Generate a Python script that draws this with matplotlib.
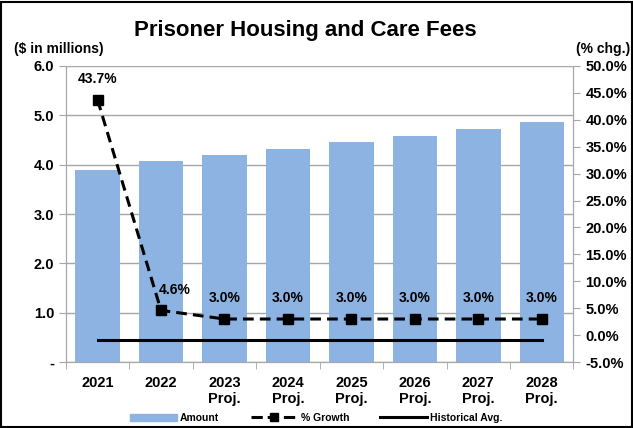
import matplotlib.pyplot as plt
from matplotlib.ticker import FuncFormatter
from matplotlib.patches import Rectangle
from matplotlib.lines import Line2D
import numpy as np

plt.rcParams['font.family'] = ['Liberation Sans', 'DejaVu Sans']
plt.rcParams['font.weight'] = 'bold'

years = ["2021", "2022", "2023\nProj.", "2024\nProj.", "2025\nProj.",
         "2026\nProj.", "2027\nProj.", "2028\nProj."]
amount = [3.89, 4.07, 4.19, 4.32, 4.45, 4.58, 4.72, 4.86]
growth = [43.7, 4.6, 3.0, 3.0, 3.0, 3.0, 3.0, 3.0]
hist_avg = -0.9

bar_color = '#8db3e2'
x = np.arange(len(years))

fig = plt.figure(figsize=(6.33, 4.28), dpi=100)
ax = fig.add_axes([0.104, 0.154, 0.802, 0.692])
ax2 = ax.twinx()

ax.bar(x, amount, width=0.7, color=bar_color, zorder=2)
ax.set_ylim(0, 6)
ax.set_xlim(-0.5, len(years) - 0.5)
ax.set_yticks(np.arange(0, 7, 1))
ax.yaxis.set_major_formatter(FuncFormatter(lambda v, p: '-' if v == 0 else f'{v:.1f}'))
ax.grid(axis='y', color='#a6a6a6', linewidth=1, zorder=0)
ax.set_axisbelow(True)
ax.set_xticks(x)
ax.set_xticklabels(years, fontsize=10.5, fontweight='bold')
ax.set_xticks(np.arange(-0.5, len(years)), minor=True)
ax.tick_params(axis='x', which='major', length=0, pad=10)
ax.tick_params(axis='x', which='minor', length=5, color='#a6a6a6')
ax.tick_params(axis='y', length=5, color='#a6a6a6', labelsize=10.5)

ax2.plot(x, growth, color='black', linestyle='--', linewidth=2.2, dashes=(3.5, 2),
         marker='s', markersize=6.5, zorder=4)
ax2.plot(x, [hist_avg] * len(x), color='black', linewidth=2.2, zorder=3)
ax2.set_ylim(-5, 50)
ax2.set_yticks(np.arange(-5, 55, 5))
ax2.yaxis.set_major_formatter(FuncFormatter(lambda v, p: f'{v:.1f}%'))
ax2.tick_params(axis='y', length=5, color='#a6a6a6', labelsize=10.5)

for i, g in enumerate(growth):
    dx = 0.22 if i == 1 else 0
    ax2.annotate(f'{g:.1f}%', (x[i] + dx, g), xytext=(0, 10), textcoords='offset points',
                 ha='center', va='bottom', fontsize=10, fontweight='bold')

for a in (ax, ax2):
    for s in a.spines.values():
        s.set_color('#a6a6a6')
    a.spines['top'].set_visible(False)

fig.text(0.483, 0.928, 'Prisoner Housing and Care Fees', ha='center', va='center',
         fontsize=16, fontweight='bold')
fig.text(0.022, 0.885, '($ in millions)', ha='left', va='center', fontsize=10, fontweight='bold')
fig.text(0.995, 0.885, '(% chg.)', ha='right', va='center', fontsize=10, fontweight='bold')

handles = [Rectangle((0, 0), 1, 1, color=bar_color),
           Line2D([], [], color='black', linestyle='--', linewidth=2.2, marker='s', markersize=6),
           Line2D([], [], color='black', linewidth=2.2)]
fig.legend(handles, ['Amount', '% Growth', 'Historical Avg.'], loc='lower center',
           bbox_to_anchor=(0.5, -0.01), ncol=3, frameon=False, fontsize=7.5,
           handlelength=4.5, columnspacing=3, handletextpad=0.3)

fig.patches.append(Rectangle((0.002, 0.002), 0.996, 0.993, transform=fig.transFigure,
                             fill=False, edgecolor='black', linewidth=1.5))

fig.savefig('out.png', dpi=100)
